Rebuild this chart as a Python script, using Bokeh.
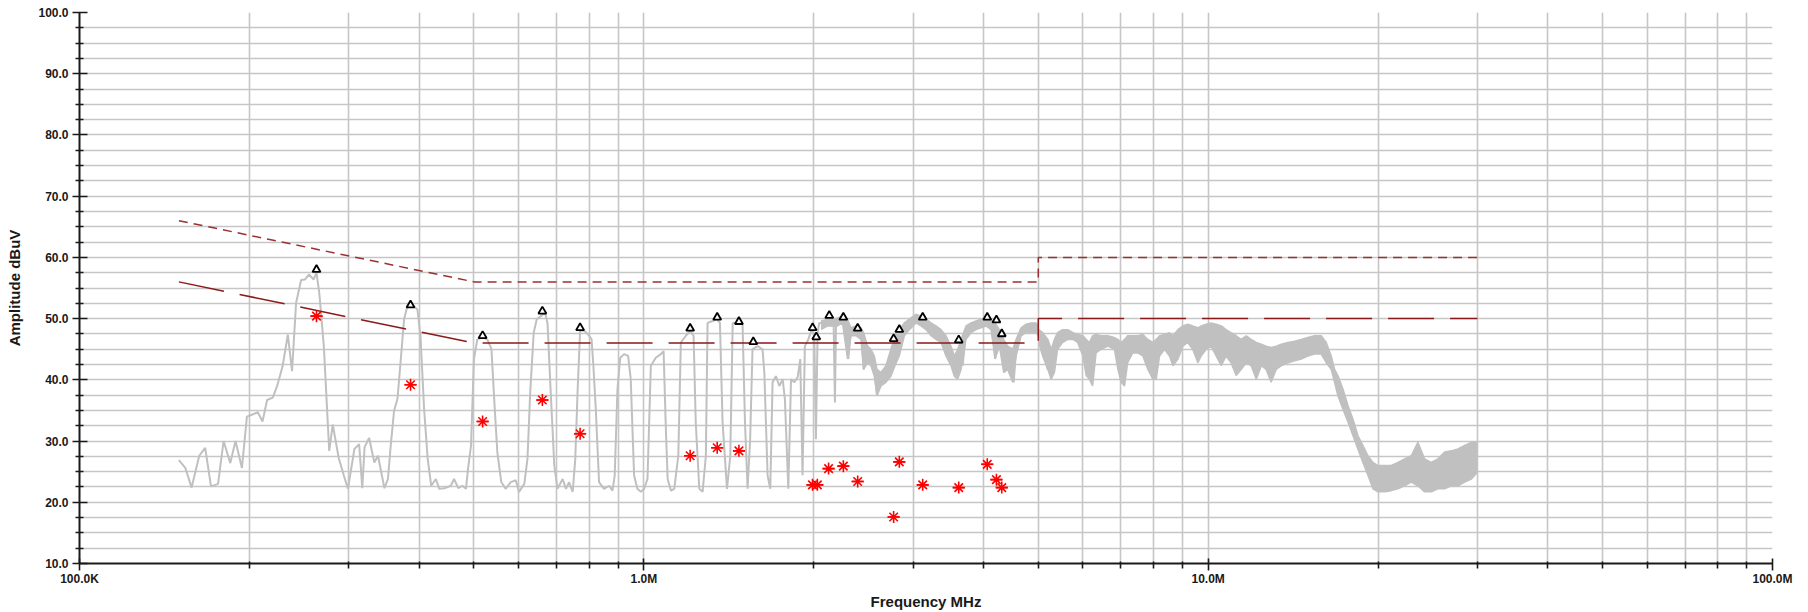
from bokeh.plotting import figure
from bokeh.models import FixedTicker, Range1d, NumeralTickFormatter
from bokeh.embed import file_html
from bokeh.resources import INLINE

# ---- data ----
trace_f = [0.150, 0.154, 0.158, 0.163, 0.167, 0.171, 0.176, 0.180, 0.185, 0.189, 0.194, 0.198,
           0.202, 0.207, 0.211, 0.215, 0.220, 0.224, 0.229, 0.234, 0.238, 0.242, 0.247, 0.251,
           0.255, 0.260, 0.263, 0.266, 0.271, 0.277, 0.281, 0.288, 0.294, 0.299, 0.307, 0.313,
           0.317, 0.320, 0.326, 0.333, 0.338, 0.347, 0.352, 0.356, 0.361, 0.366, 0.371, 0.376,
           0.381, 0.389, 0.397, 0.402, 0.408, 0.414, 0.420, 0.428, 0.434, 0.443, 0.455, 0.461,
           0.469, 0.477, 0.484, 0.488, 0.494, 0.500, 0.507, 0.518, 0.528, 0.537, 0.543, 0.550,
           0.559, 0.569, 0.581, 0.593, 0.601, 0.614, 0.622, 0.629, 0.638, 0.646, 0.657, 0.668,
           0.675, 0.684, 0.694, 0.703, 0.718, 0.728, 0.737, 0.748, 0.756, 0.763, 0.771, 0.784,
           0.797, 0.808, 0.814, 0.822, 0.833, 0.850, 0.868, 0.880, 0.888, 0.898, 0.908, 0.923,
           0.938, 0.948, 0.961, 0.974, 0.988, 1.001, 1.015, 1.029, 1.050, 1.072, 1.084, 1.094,
           1.102, 1.117, 1.132, 1.151, 1.163, 1.187, 1.208, 1.225, 1.236, 1.254, 1.271, 1.288,
           1.297, 1.324, 1.347, 1.364, 1.379, 1.404, 1.423, 1.437, 1.466, 1.496, 1.511, 1.527,
           1.543, 1.558, 1.591, 1.623, 1.635, 1.657, 1.675, 1.691, 1.714, 1.738, 1.762, 1.778,
           1.803, 1.823, 1.848, 1.873, 1.893, 1.911, 1.929, 1.956, 1.983, 2.005, 2.018, 2.032,
           2.046, 2.060, 2.088, 2.145, 2.169, 2.181, 2.190, 2.235, 2.281, 2.303, 2.328, 2.376,
           2.425, 2.452, 2.492, 2.526, 2.561, 2.589, 2.614, 2.649, 2.685, 2.723, 2.760, 2.786,
           2.817, 2.856, 2.895, 2.935, 2.983, 3.036, 3.098, 3.162, 3.228, 3.294, 3.362, 3.431,
           3.502, 3.550, 3.589, 3.623, 3.673, 3.723, 3.800, 3.878, 3.958, 4.040, 4.096, 4.152,
           4.192, 4.236, 4.295, 4.354, 4.413, 4.474, 4.523, 4.567, 4.661, 4.757, 4.856, 4.955,
           5.003, 5.058, 5.126, 5.196]
trace_db = [26.9, 25.6, 22.4, 27.6, 28.9, 22.6, 23.0, 30.0, 26.4, 30.0, 25.6, 34.0,
            34.3, 34.7, 33.2, 36.7, 37.1, 39.0, 42.2, 47.4, 41.4, 52.6, 56.3, 56.4,
            57.2, 56.4, 57.5, 54.2, 45.5, 28.4, 32.7, 27.2, 24.4, 22.2, 28.7, 29.5,
            22.3, 29.0, 30.5, 26.5, 27.6, 22.3, 23.8, 29.2, 35.0, 36.9, 43.4, 49.9,
            52.0, 52.2, 51.5, 47.2, 35.2, 27.1, 22.7, 23.8, 22.2, 22.3, 22.7, 23.8,
            22.3, 22.7, 22.2, 25.4, 29.2, 43.4, 46.6, 46.9, 46.6, 45.0, 36.9, 28.2,
            23.3, 22.2, 23.3, 23.6, 21.7, 23.0, 27.1, 37.9, 47.7, 49.9, 50.4, 51.0,
            49.3, 37.9, 26.0, 22.2, 23.8, 22.2, 23.3, 21.7, 27.1, 37.9, 48.0, 48.0,
            47.4, 46.6, 42.3, 35.2, 23.3, 22.2, 22.7, 21.9, 24.4, 38.5, 43.6, 44.2,
            43.9, 40.1, 24.4, 22.2, 21.7, 22.2, 23.8, 42.3, 43.6, 44.2, 44.7, 32.0,
            23.8, 21.9, 22.2, 27.6, 46.1, 47.2, 48.0, 47.2, 33.0, 22.2, 21.7, 27.6,
            49.3, 49.6, 49.9, 49.3, 33.0, 22.2, 27.6, 49.3, 49.3, 49.1, 33.0, 22.2,
            30.3, 45.0, 45.5, 45.0, 41.2, 24.4, 22.2, 39.6, 40.6, 39.0, 40.1, 36.9,
            22.2, 40.1, 39.6, 40.4, 43.4, 24.4, 45.5, 46.6, 48.2, 47.2, 30.3, 47.7,
            49.3, 49.3, 49.6, 49.9, 49.3, 36.3, 48.8, 50.1, 49.9, 43.4, 48.0, 48.5,
            48.2, 41.7, 45.0, 43.9, 41.7, 37.4, 40.6, 40.1, 41.2, 41.7, 45.5, 43.9,
            46.6, 48.2, 48.8, 49.3, 50.1, 50.4, 49.9, 49.3, 48.8, 48.0, 47.4, 46.3,
            44.4, 42.3, 40.1, 45.0, 42.3, 48.2, 48.8, 49.3, 49.6, 49.9, 48.8, 49.6,
            43.4, 48.2, 46.6, 41.2, 43.9, 43.1, 39.6, 45.0, 48.2, 48.8, 48.5, 48.8,
            48.2, 45.0, 43.9, 41.7]

# noisy band 2-5 MHz (upper / lower envelope)
mid_f = [2.060, 2.117, 2.169, 2.203, 2.249, 2.296, 2.328, 2.376, 2.425, 2.452, 2.492, 2.526,
         2.561, 2.589, 2.632, 2.685, 2.740, 2.786, 2.835, 2.895, 2.955, 3.036, 3.098, 3.162,
         3.228, 3.294, 3.362, 3.431, 3.502, 3.550, 3.599, 3.648, 3.723, 3.800, 3.878, 3.958,
         4.040, 4.123, 4.192, 4.266, 4.342, 4.413, 4.504, 4.567, 4.661, 4.757, 4.856, 4.955,
         5.003]
mid_hi = [49.6, 49.9, 49.9, 50.1, 50.4, 49.9, 48.5, 48.8, 48.5, 47.7, 45.5, 45.0,
          43.9, 41.7, 41.2, 42.3, 45.0, 47.2, 48.2, 49.3, 49.9, 50.7, 50.4, 49.9,
          49.3, 48.8, 48.2, 47.2, 45.5, 43.9, 45.0, 46.6, 48.8, 49.3, 49.6, 49.9,
          50.1, 49.9, 49.3, 48.2, 46.6, 45.5, 45.0, 46.6, 48.5, 49.1, 49.3, 49.3,
          48.8]
mid_lo = [48.2, 48.8, 48.8, 48.8, 49.3, 43.4, 47.2, 47.2, 46.6, 41.7, 42.8, 42.3,
          40.6, 37.4, 39.0, 39.6, 40.6, 42.3, 43.9, 47.2, 48.2, 49.3, 48.8, 48.2,
          47.2, 46.6, 46.1, 43.9, 42.3, 40.6, 40.1, 41.7, 46.6, 47.7, 48.2, 48.5,
          48.8, 48.2, 43.4, 45.5, 41.2, 41.7, 39.6, 43.9, 47.2, 47.7, 47.7, 47.7,
          47.2]

# noisy band 5-30 MHz (upper / lower envelope)
noise_f = [5.01, 5.09, 5.20, 5.27, 5.34, 5.41, 5.52, 5.64, 5.76, 5.87, 6.00, 6.08, 6.16, 6.24,
           6.33, 6.46, 6.64, 6.82, 6.92, 7.01, 7.11, 7.20, 7.35, 7.50, 7.66, 7.82, 7.98, 8.09,
           8.20, 8.37, 8.54, 8.66, 8.84, 9.02, 9.20, 9.39, 9.59, 9.72, 9.92, 10.12, 10.33, 10.55,
           10.76, 10.98, 11.21, 11.44, 11.68, 11.92, 12.17, 12.42, 12.67, 12.93, 13.20, 13.48,
           13.85, 14.23, 14.62, 15.02, 15.44, 15.86, 16.19, 16.52, 16.75, 16.98, 17.33, 17.69,
           18.05, 18.42, 18.80, 19.19, 19.59, 19.99, 20.55, 21.11, 21.69, 22.29, 22.90, 23.53,
           24.18, 24.85, 25.53, 26.24, 26.97, 27.71, 28.48, 29.27, 30.00]
noise_hi = [48.2, 47.7, 46.6, 45.0, 46.6, 47.7, 48.2, 48.2, 47.7, 47.4, 47.2, 46.6, 46.1, 47.2,
            47.4, 47.2, 47.2, 46.9, 46.6, 46.1, 46.6, 47.2, 47.2, 47.2, 47.4, 46.6, 46.1, 46.6,
            47.2, 47.4, 47.7, 47.2, 48.2, 48.8, 49.1, 48.8, 48.5, 48.8, 49.1, 49.3, 49.1, 48.8,
            48.2, 47.7, 47.2, 46.6, 47.2, 46.6, 46.1, 45.8, 45.5, 45.3, 45.5, 45.8,
            46.1, 46.3, 46.6, 46.9, 47.2, 47.2, 46.1, 43.9, 41.7, 40.7, 38.5, 35.8,
            33.6, 30.9, 29.3, 27.6, 26.5, 26.0, 26.0, 26.0, 26.5, 27.1, 27.6, 29.8,
            27.1, 26.5, 27.1, 28.2, 28.4, 28.7, 29.3, 29.8, 29.8]
noise_lo = [46.1, 43.9, 41.7, 40.1, 41.2, 45.0, 46.1, 46.6, 46.6, 46.1, 43.9, 40.7, 40.1, 39.0,
            44.4, 45.0, 45.5, 45.0, 41.7, 39.6, 39.0, 42.8, 44.4, 44.4, 43.9, 41.7, 40.1, 40.1,
            43.9, 45.0, 43.9, 42.3, 43.4, 45.5, 46.1, 45.0, 42.8, 43.9, 45.0, 45.5, 43.9, 42.3,
            43.9, 42.8, 40.7, 41.7, 42.8, 42.3, 40.1, 42.3, 41.7, 39.6, 41.7, 42.3,
            42.8, 43.1, 43.4, 43.9, 44.2, 44.2, 42.8, 41.7, 39.6, 37.4, 35.2, 33.1,
            30.9, 28.7, 26.5, 24.4, 22.2, 21.7, 21.7, 21.9, 22.2, 22.7, 23.3, 22.7,
            21.7, 21.7, 22.2, 22.2, 22.7, 22.7, 23.3, 23.8, 24.9]

limit_f = [0.15, 0.5, 5.0, 5.0, 30.0]
qp_limit = [66.0, 56.0, 56.0, 60.0, 60.0]
av_limit = [56.0, 46.0, 46.0, 50.0, 50.0]

peak_f = [0.263, 0.386, 0.518, 0.661, 0.771, 1.208, 1.349, 1.474, 1.563, 1.991, 2.021,
          2.131, 2.257, 2.393, 2.771, 2.836, 3.120, 3.614, 4.060, 4.215, 4.308]
peak_db = [58.0, 52.2, 47.2, 51.2, 48.5, 48.4, 50.2, 49.5, 46.2, 48.5, 47.0,
           50.5, 50.2, 48.4, 46.7, 48.2, 50.2, 46.5, 50.2, 49.75, 47.5]

meas_f = [0.263, 0.386, 0.518, 0.661, 0.771, 1.208, 1.349, 1.474, 1.990, 2.030,
          2.125, 2.257, 2.393, 2.771, 2.836, 3.120, 3.614, 4.060, 4.215, 4.308]
meas_db = [50.4, 39.2, 33.2, 36.7, 31.2, 27.6, 28.9, 28.4, 22.85, 22.85,
           25.5, 25.9, 23.4, 17.6, 26.6, 22.85, 22.4, 26.2, 23.7, 22.4]

x_major = [0.1, 1.0, 10.0, 100.0]
x_minor = [0.2, 0.3, 0.4, 0.5, 0.6, 0.7, 0.8, 0.9, 2, 3, 4, 5, 6, 7, 8, 9,
           20, 30, 40, 50, 60, 70, 80, 90]
x_labels = {0.1: "100.0K", 1: "1.0M", 10: "10.0M", 100: "100.0M"}
y_major = [10, 20, 30, 40, 50, 60, 70, 80, 90, 100]
y_minor = [12.5, 15, 17.5, 22.5, 25, 27.5, 32.5, 35, 37.5, 42.5, 45, 47.5, 52.5, 55, 57.5,
           62.5, 65, 67.5, 72.5, 75, 77.5, 82.5, 85, 87.5, 92.5, 95, 97.5]

# ---- figure ----
FONT = "Liberation Sans"
GRID = "#C6C6C6"
TRACE = "#C0C0C0"

p = figure(width=1808, height=612, x_axis_type="log",
           x_range=Range1d(0.1, 100), y_range=Range1d(10, 100),
           output_backend="svg", toolbar_location=None,
           min_border_left=79, min_border_right=36, min_border_top=12, min_border_bottom=47)
p.outline_line_color = None
p.background_fill_color = "white"
p.border_fill_color = "white"

xt = FixedTicker(ticks=x_major, minor_ticks=x_minor)
yt = FixedTicker(ticks=y_major, minor_ticks=y_minor)
p.xaxis.ticker = xt
p.yaxis.ticker = yt
p.xgrid.ticker = xt
p.ygrid.ticker = yt

for g in (p.xgrid, p.ygrid):
    g.grid_line_color = GRID
    g.grid_line_width = 1.6
    g.minor_grid_line_color = GRID
    g.minor_grid_line_width = 1.6

p.xaxis.major_label_overrides = x_labels
p.yaxis.formatter = NumeralTickFormatter(format="0.0")

for ax in (p.xaxis, p.yaxis):
    ax.axis_line_color = "#1a1a1a"
    ax.axis_line_width = 2
    ax.major_tick_line_color = "#1a1a1a"
    ax.major_tick_line_width = 1.6
    ax.minor_tick_line_color = "#1a1a1a"
    ax.minor_tick_line_width = 1.6
    ax.major_label_text_font = FONT
    ax.major_label_text_font_style = "bold"
    ax.major_label_text_font_size = "12px"
    ax.major_label_text_color = "#1a1a1a"
    ax.axis_label_text_font = FONT
    ax.axis_label_text_font_style = "bold"
    ax.axis_label_text_font_size = "15px"
    ax.axis_label_text_color = "#1a1a1a"

p.xaxis.axis_label = "Frequency MHz"
p.yaxis.axis_label = "Amplitude dBuV"
p.xaxis.major_tick_out = 7
p.xaxis.major_tick_in = 5
p.xaxis.minor_tick_out = 5
p.xaxis.minor_tick_in = 2
p.xaxis.major_label_standoff = 1
p.xaxis.axis_label_standoff = 4
p.yaxis.major_tick_out = 7
p.yaxis.major_tick_in = 8
p.yaxis.minor_tick_out = 4
p.yaxis.minor_tick_in = 4
p.yaxis.major_label_standoff = 4
p.yaxis.axis_label_standoff = 12

# spectrum
p.varea(x=noise_f, y1=noise_lo, y2=noise_hi, fill_color=TRACE)
p.line(noise_f, noise_hi, line_color=TRACE, line_width=1.5)
p.line(noise_f, noise_lo, line_color=TRACE, line_width=1.5)
p.varea(x=mid_f, y1=mid_lo, y2=mid_hi, fill_color=TRACE)
p.line(mid_f, mid_hi, line_color=TRACE, line_width=1.5)
p.line(mid_f, mid_lo, line_color=TRACE, line_width=1.5)
p.line(trace_f, trace_db, line_color=TRACE, line_width=2)

# limits
p.line(limit_f, qp_limit, line_color="#9A3030", line_width=1.5, line_dash="9 6")
p.line(limit_f, av_limit, line_color="#8B1A1A", line_width=1.5, line_dash="46 16")

# markers
p.scatter(meas_f, meas_db, marker="asterisk", size=12, line_color="#FF0000", line_width=1.6)
p.scatter(meas_f, meas_db, marker="dash", size=12, line_color="#FF0000", line_width=1.6)
p.scatter(peak_f, peak_db, marker="triangle", size=8, fill_color="white",
          line_color="black", line_width=1.8)

open("out.html", "w").write(file_html(p, INLINE))
